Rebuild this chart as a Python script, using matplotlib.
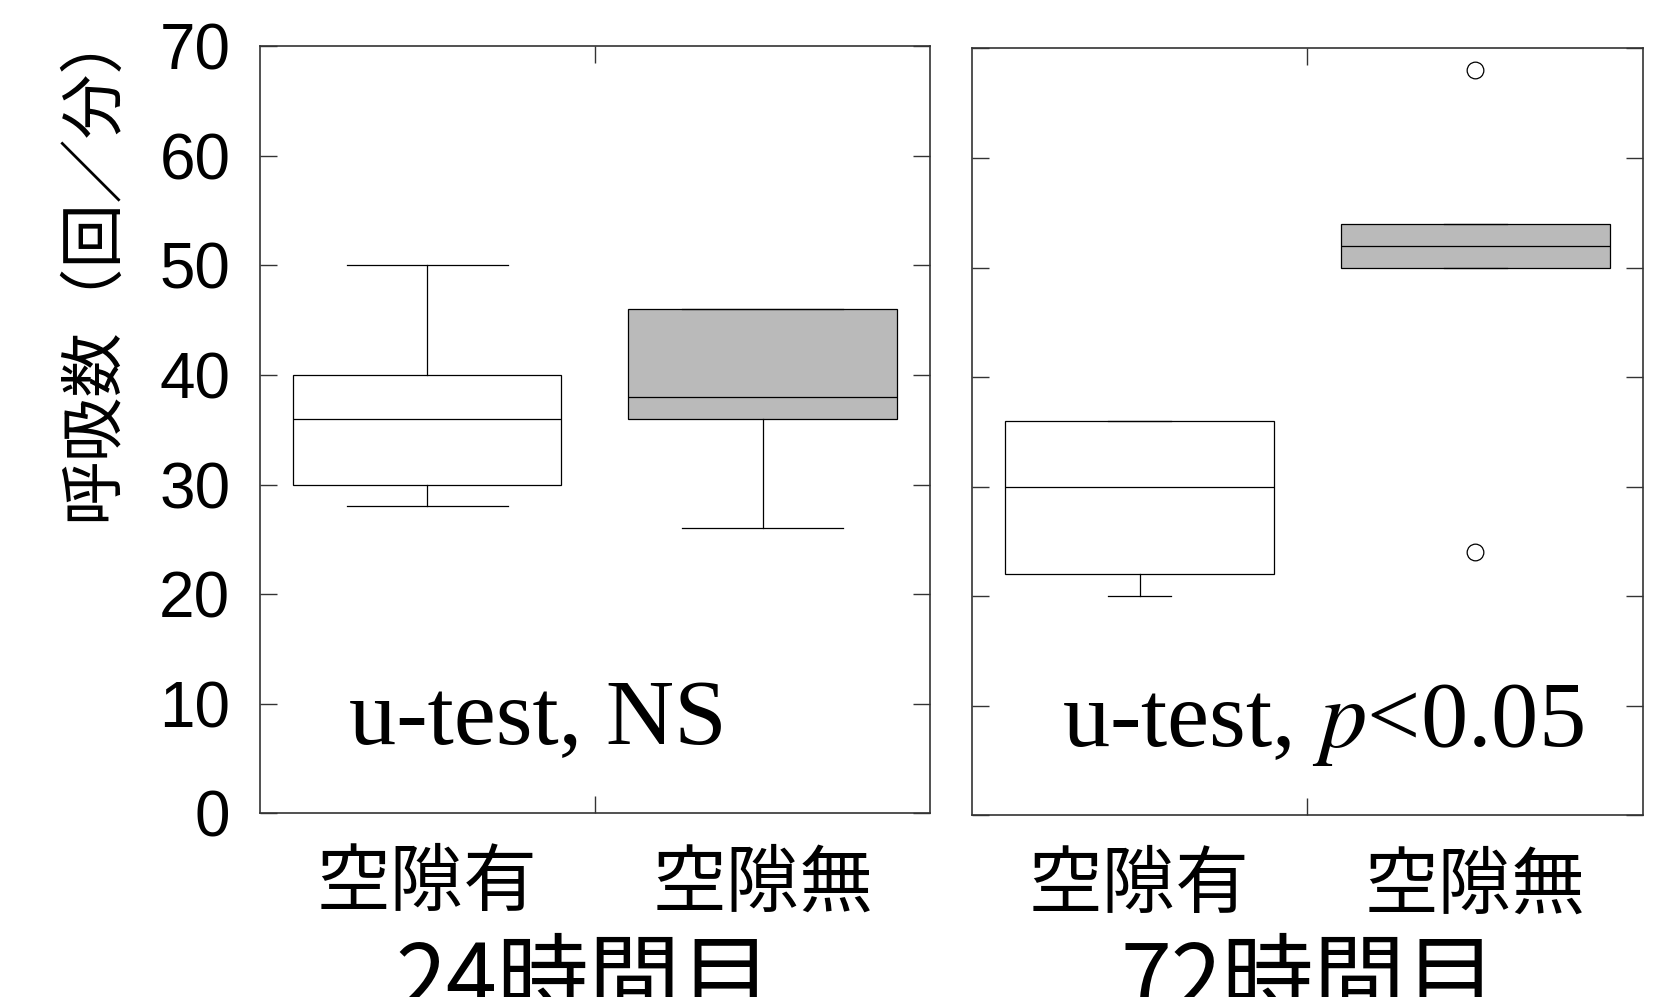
import numpy as np
import matplotlib.pyplot as plt
from matplotlib.transforms import blended_transform_factory

plt.rcParams['font.family'] = ['Noto Sans CJK JP', 'DejaVu Sans']
plt.rcParams['mathtext.fontset'] = 'stix'

groups = ['24時間目', '72時間目']
categories = ['空隙有', '空隙無']
# box statistics, one row per group: [空隙有, 空隙無]
whislo = [[28, 26], [20, 50]]
q1 = [[30, 36], [22, 50]]
med = [[36, 38], [30, 52]]
q3 = [[40, 46], [36, 54]]
whishi = [[50, 46], [36, 54]]
fliers = [[[], []], [[], [68, 24]]]
cap_widths = [0.48, 0.19]
tests = ['u-test, NS', 'u-test, $p$<0.05']
yticks = [0, 10, 20, 30, 40, 50, 60, 70]

fig = plt.figure(figsize=(16.54, 9.97), dpi=100)
axes = [fig.add_axes([0.1569, 0.1843, 0.4056, 0.7692]),
        fig.add_axes([0.5874, 0.1822, 0.4062, 0.7692])]
group_x = [0.3527, 0.791]

for g, ax in enumerate(axes):
    stats = []
    for c in range(2):
        stats.append(dict(whislo=whislo[g][c], q1=q1[g][c], med=med[g][c],
                          q3=q3[g][c], whishi=whishi[g][c], fliers=fliers[g][c]))
    bp = ax.bxp(stats, positions=[1, 2], widths=0.8,
                capwidths=[cap_widths[g]] * 2, patch_artist=True,
                boxprops=dict(edgecolor='black', linewidth=0.9),
                medianprops=dict(color='black', linewidth=0.9),
                whiskerprops=dict(color='black', linewidth=0.9),
                capprops=dict(color='black', linewidth=0.9),
                flierprops=dict(marker='o', markerfacecolor='white',
                                markeredgecolor='black', markersize=12,
                                markeredgewidth=0.9))
    bp['boxes'][0].set_facecolor('white')
    bp['boxes'][1].set_facecolor('#bababa')

    ax.set_xlim(0.5, 2.5)
    ax.set_ylim(0, 70)
    ax.set_yticks(yticks)
    ax.set_xticks([1.5])
    ax.tick_params(axis='both', direction='in', length=12, width=1,
                   color='#333333', top=True, right=True, pad=21,
                   labelbottom=False, labelsize=46)
    if g == 1:
        ax.tick_params(axis='y', labelleft=False)
    else:
        for lab in ax.get_yticklabels():
            lab.set_fontfamily('Liberation Sans')
    for sp in ax.spines.values():
        sp.set_color('#333333')
        sp.set_linewidth(1.2)

    # category names under each box
    trans = blended_transform_factory(ax.transData, ax.transAxes)
    for c, name in enumerate(categories):
        ax.text(c + 1, -0.093, name, transform=trans, ha='center',
                va='center', fontsize=53)

    ax.text(0.134, 6.3, tests[g],
            transform=blended_transform_factory(ax.transAxes, ax.transData),
            ha='left', va='baseline', fontsize=68,
            family='Liberation Serif')

    fig.text(group_x[g], -0.013, groups[g], ha='center', va='baseline',
             fontsize=66)

fig.text(0.056, 0.737, '呼吸数（回／分）', rotation=90, ha='center',
         va='center', fontsize=46.5)

fig.savefig('out.png', dpi=100)
